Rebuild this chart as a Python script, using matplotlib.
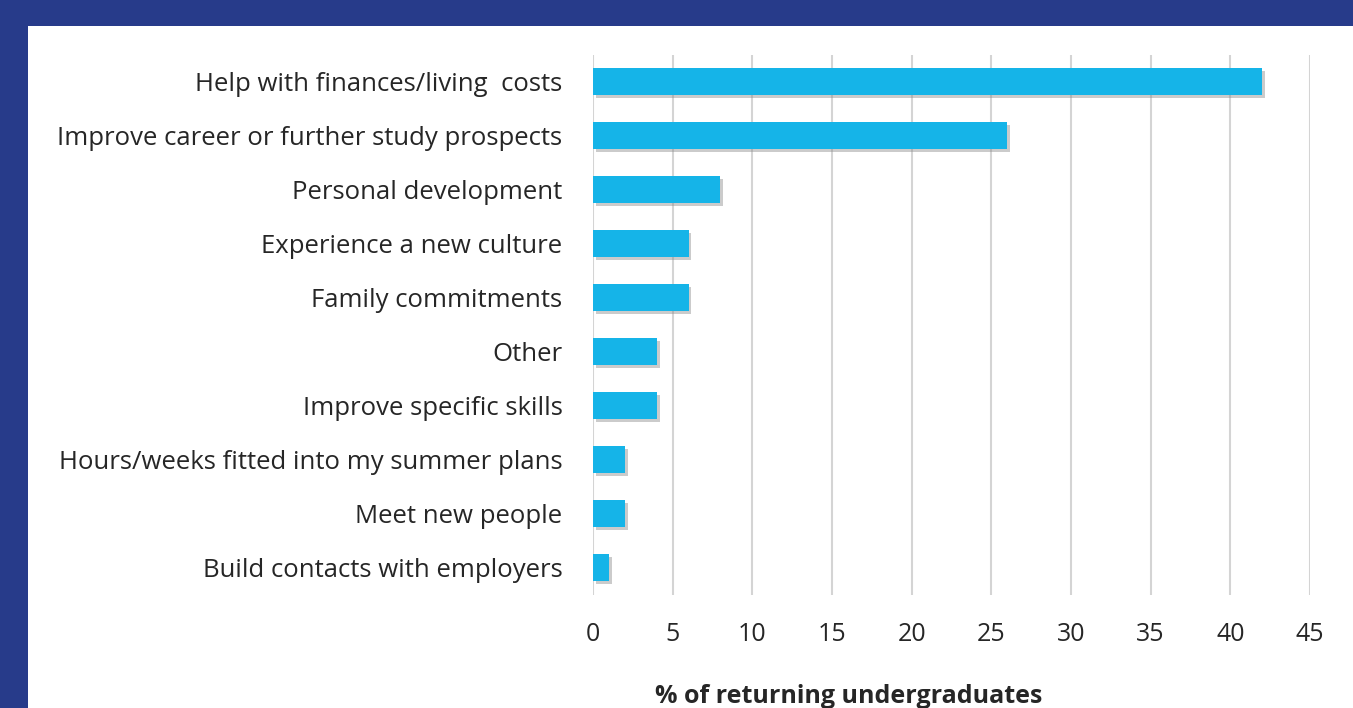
import matplotlib
matplotlib.use("Agg")
import matplotlib.pyplot as plt
import matplotlib.patheffects as pe
from matplotlib.patches import Rectangle

# Reasons given by returning undergraduates (top to bottom)
reasons = [
    "Help with finances/living  costs",
    "Improve career or further study prospects",
    "Personal development",
    "Experience a new culture",
    "Family commitments",
    "Other",
    "Improve specific skills",
    "Hours/weeks fitted into my summer plans",
    "Meet new people",
    "Build contacts with employers",
]
percentages = [42, 26, 8, 6, 6, 4, 4, 2, 2, 1]
x_ticks = [0, 5, 10, 15, 20, 25, 30, 35, 40, 45]

BORDER_BLUE = "#273b8a"
BAR_BLUE = "#15b4e8"
TEXT = "#262626"

plt.rcParams["font.family"] = ["Open Sans", "DejaVu Sans"]

fig = plt.figure(figsize=(13.53, 7.08), dpi=100)
fig.patch.set_facecolor("white")

# navy frame along the top and left edges
fig.patches.append(Rectangle((0, 1 - 26 / 708), 1, 26 / 708, transform=fig.transFigure,
                             facecolor=BORDER_BLUE, edgecolor="none", zorder=0))
fig.patches.append(Rectangle((0, 0), 28 / 1353, 1, transform=fig.transFigure,
                             facecolor=BORDER_BLUE, edgecolor="none", zorder=0))

ax = fig.add_axes([593 / 1353, 1 - 594.5 / 708, 717 / 1353, 540 / 708])

ypos = list(range(len(reasons)))
bars = ax.barh(ypos, percentages, height=0.5, color=BAR_BLUE, zorder=3)
for b in bars:
    b.set_path_effects([pe.SimplePatchShadow(offset=(2, -2), shadow_rgbFace="#8c8c8c", alpha=0.45),
                        pe.Normal()])

ax.set_ylim(len(reasons) - 0.5, -0.5)
ax.set_yticks(ypos)
ax.set_yticklabels(reasons, fontsize=18.5, color=TEXT)
ax.set_xlim(0, 45)
ax.set_xticks(x_ticks)
ax.set_xticklabels([str(t) for t in x_ticks], fontsize=18, color=TEXT)

ax.tick_params(axis="y", length=0, pad=22)
ax.tick_params(axis="x", length=0, pad=20)
ax.xaxis.grid(True, color="#d4d4d4", linewidth=1.5, zorder=0)
ax.set_axisbelow(True)
for s in ax.spines.values():
    s.set_visible(False)

ax.set_xlabel("% of returning undergraduates", fontsize=18, fontweight="bold", color=TEXT)
ax.xaxis.set_label_coords(0.356, -0.165)

fig.savefig("out.png", dpi=100, facecolor=fig.get_facecolor())
